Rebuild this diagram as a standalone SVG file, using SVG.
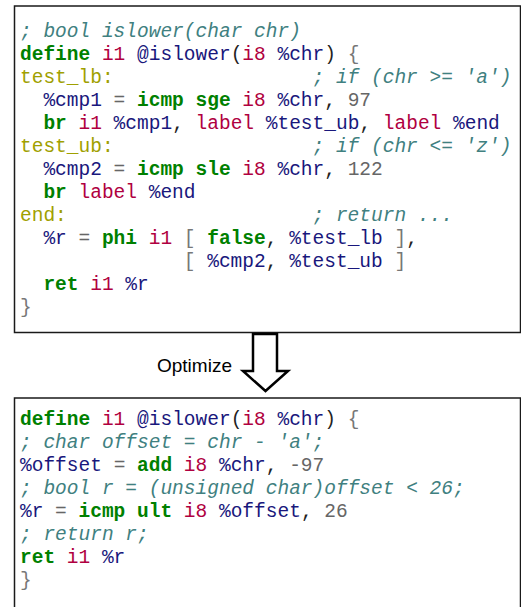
<svg xmlns="http://www.w3.org/2000/svg" width="521" height="607" viewBox="0 0 521 607">
<style>
.box{fill:#fff;stroke:#1a1a1a;stroke-width:1.5}
.code{font-family:"Liberation Mono","Courier New",monospace;font-size:19.5px;fill:#222}
.c{fill:#408080;font-style:italic}
.k{fill:#008000;font-weight:bold}
.t{fill:#B00040}
.v{fill:#19177C}
.l{fill:#A0A000}
.n{fill:#666}
.o{fill:#666}
.p{fill:#222}
.b{fill:#777}
.lbl{font-family:"Liberation Sans",Arial,sans-serif;font-size:19px;fill:#000}
.arrow{fill:#fff;stroke:#000;stroke-width:2.5;stroke-linejoin:miter}
</style>
<rect width="521" height="607" fill="#fff"/>
<g id="box-original">
<rect class="box" x="14.5" y="6" width="506" height="326.5"/>
<g class="code">
<text x="20" y="37"><tspan class="c">; bool islower(char chr)</tspan></text>
<text x="20" y="60"><tspan class="k">define</tspan> <tspan class="t">i1</tspan> <tspan class="v">@islower</tspan><tspan class="p">(</tspan><tspan class="t">i8</tspan> <tspan class="v">%chr</tspan><tspan class="p">)</tspan> <tspan class="b">{</tspan></text>
<text x="20" y="83"><tspan class="l">test_lb:</tspan><tspan class="c" x="312.5">; if (chr &gt;= 'a')</tspan></text>
<text x="43.4" y="106"><tspan class="v">%cmp1</tspan> <tspan class="o">=</tspan> <tspan class="k">icmp</tspan> <tspan class="k">sge</tspan> <tspan class="t">i8</tspan> <tspan class="v">%chr</tspan><tspan class="p">,</tspan> <tspan class="n">97</tspan></text>
<text x="43.4" y="129"><tspan class="k">br</tspan> <tspan class="t">i1</tspan> <tspan class="v">%cmp1</tspan><tspan class="p">,</tspan> <tspan class="t">label</tspan> <tspan class="v">%test_ub</tspan><tspan class="p">,</tspan> <tspan class="t">label</tspan> <tspan class="v">%end</tspan></text>
<text x="20" y="152"><tspan class="l">test_ub:</tspan><tspan class="c" x="312.5">; if (chr &lt;= 'z')</tspan></text>
<text x="43.4" y="175"><tspan class="v">%cmp2</tspan> <tspan class="o">=</tspan> <tspan class="k">icmp</tspan> <tspan class="k">sle</tspan> <tspan class="t">i8</tspan> <tspan class="v">%chr</tspan><tspan class="p">,</tspan> <tspan class="n">122</tspan></text>
<text x="43.4" y="198"><tspan class="k">br</tspan> <tspan class="t">label</tspan> <tspan class="v">%end</tspan></text>
<text x="20" y="221"><tspan class="l">end:</tspan><tspan class="c" x="312.5">; return ...</tspan></text>
<text x="43.4" y="244"><tspan class="v">%r</tspan> <tspan class="o">=</tspan> <tspan class="k">phi</tspan> <tspan class="t">i1</tspan> <tspan class="b">[</tspan> <tspan class="k">false</tspan><tspan class="p">,</tspan> <tspan class="v">%test_lb</tspan> <tspan class="b">]</tspan><tspan class="p">,</tspan></text>
<text x="183.8" y="267"><tspan class="b">[</tspan> <tspan class="v">%cmp2</tspan><tspan class="p">,</tspan> <tspan class="v">%test_ub</tspan> <tspan class="b">]</tspan></text>
<text x="43.4" y="290"><tspan class="k">ret</tspan> <tspan class="t">i1</tspan> <tspan class="v">%r</tspan></text>
<text x="20" y="313"><tspan class="b">}</tspan></text>
</g>
</g>
<g id="connectors">
<polygon class="arrow" points="253,334 277,334 277,371 288,371 265.5,391 243,371 253,371"/>
</g>
<g id="label-optimize">
<text class="lbl" x="157" y="372">Optimize</text>
</g>
<g id="box-optimized">
<rect class="box" x="14.5" y="398" width="506" height="220"/>
<g class="code">
<text x="20" y="425"><tspan class="k">define</tspan> <tspan class="t">i1</tspan> <tspan class="v">@islower</tspan><tspan class="p">(</tspan><tspan class="t">i8</tspan> <tspan class="v">%chr</tspan><tspan class="p">)</tspan> <tspan class="b">{</tspan></text>
<text x="20" y="448"><tspan class="c">; char offset = chr - 'a';</tspan></text>
<text x="20" y="471"><tspan class="v">%offset</tspan> <tspan class="o">=</tspan> <tspan class="k">add</tspan> <tspan class="t">i8</tspan> <tspan class="v">%chr</tspan><tspan class="p">,</tspan> <tspan class="n">-97</tspan></text>
<text x="20" y="494"><tspan class="c">; bool r = (unsigned char)offset &lt; 26;</tspan></text>
<text x="20" y="517"><tspan class="v">%r</tspan> <tspan class="o">=</tspan> <tspan class="k">icmp</tspan> <tspan class="k">ult</tspan> <tspan class="t">i8</tspan> <tspan class="v">%offset</tspan><tspan class="p">,</tspan> <tspan class="n">26</tspan></text>
<text x="20" y="540"><tspan class="c">; return r;</tspan></text>
<text x="20" y="563"><tspan class="k">ret</tspan> <tspan class="t">i1</tspan> <tspan class="v">%r</tspan></text>
<text x="20" y="586"><tspan class="b">}</tspan></text>
</g>
</g>
</svg>
